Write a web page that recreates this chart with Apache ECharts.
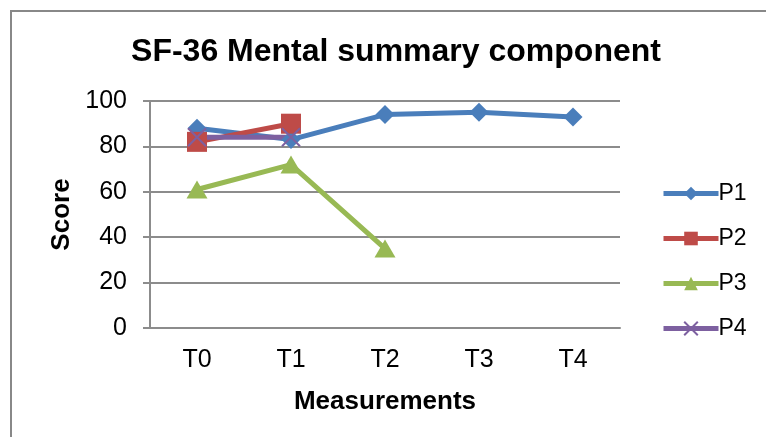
<!DOCTYPE html>
<html>
<head>
<meta charset="utf-8">
<script src="https://cdn.jsdelivr.net/npm/echarts@6/dist/echarts.min.js"></script>
<style>
  html, body { margin: 0; padding: 0; background: #fff; }
  #chart { width: 766px; height: 437px; }
</style>
</head>
<body>
<div id="chart"></div>
<script>
// Measurement points and SF-36 mental summary scores per patient
const categories = ['T0', 'T1', 'T2', 'T3', 'T4'];
const p1 = [88, 83, 94, 95, 93];
const p2 = [82, 90, null, null, null];
const p3 = [61, 72, 35, null, null];
const p4 = [84, 84, null, null, null];
const yTicks = [0, 20, 40, 60, 80, 100];

const FONT = 'Arial, "Liberation Sans", sans-serif';
const GRID_GREY = '#8c8c8c';

const chart = echarts.init(document.getElementById('chart'), null, { renderer: 'canvas' });

function lineSeries(name, data, color, symbol, size, extraItem) {
  return {
    name: name,
    type: 'line',
    data: data,
    color: color,
    symbol: symbol,
    symbolSize: size,
    showAllSymbol: true,
    connectNulls: false,
    lineStyle: { color: color, width: 5 },
    itemStyle: Object.assign({ color: color }, extraItem || {}),
    emphasis: { disabled: true },
    animation: false
  };
}

chart.setOption({
  backgroundColor: '#ffffff',
  animation: false,
  textStyle: { fontFamily: FONT },
  graphic: [
    {
      type: 'rect',
      shape: { x: 11, y: 11, width: 800, height: 500 },
      style: { fill: 'none', stroke: '#888888', lineWidth: 2 },
      silent: true,
      z: -10
    },
    {
      type: 'text',
      x: 396,
      y: 52,
      style: {
        text: 'SF-36 Mental summary component',
        fontFamily: FONT,
        fontSize: 32,
        fontWeight: 'bold',
        fill: '#000',
        align: 'center',
        verticalAlign: 'middle'
      }
    }
  ],
  grid: { left: 150, right: 146, top: 101, bottom: 109, containLabel: false },
  legend: {
    orient: 'vertical',
    left: 661,
    top: 182,
    padding: 0,
    itemWidth: 55,
    itemHeight: 17,
    itemGap: 22,
    selectedMode: false,
    lineStyle: { width: 5 },
    textStyle: { fontFamily: FONT, fontSize: 23, color: '#000', padding: [0, 0, 0, -5] },
    data: ['P1', 'P2', 'P3', 'P4']
  },
  xAxis: {
    type: 'category',
    data: categories,
    boundaryGap: true,
    name: 'Measurements',
    nameLocation: 'middle',
    nameGap: 61,
    nameTextStyle: { fontFamily: FONT, fontSize: 26, fontWeight: 'bold', color: '#000' },
    axisLine: { show: true, lineStyle: { color: GRID_GREY, width: 2 } },
    axisTick: { show: false },
    axisLabel: { fontFamily: FONT, fontSize: 25, color: '#000', margin: 20 },
    splitLine: { show: false }
  },
  yAxis: {
    type: 'value',
    min: yTicks[0],
    max: yTicks[yTicks.length - 1],
    interval: yTicks[1] - yTicks[0],
    name: 'Score',
    nameLocation: 'middle',
    nameGap: 74,
    nameRotate: 90,
    nameTextStyle: { fontFamily: FONT, fontSize: 26, fontWeight: 'bold', color: '#000' },
    axisLine: { show: true, lineStyle: { color: GRID_GREY, width: 2 } },
    axisTick: { show: true, length: 7, lineStyle: { color: GRID_GREY, width: 2 } },
    axisLabel: { fontFamily: FONT, fontSize: 25, color: '#000', margin: 23 },
    splitLine: { show: true, lineStyle: { color: GRID_GREY, width: 2 } }
  },
  series: [
    lineSeries('P1', p1, '#4a7ebb', 'diamond', [19, 19]),
    lineSeries('P2', p2, '#be4b48', 'rect', [20, 20]),
    lineSeries('P3', p3, '#98b954', 'triangle', [21, 18]),
    lineSeries('P4', p4, '#7d60a0', 'path://M0,0L10,10M10,0L0,10', [18, 18],
      { borderColor: '#7d60a0', borderWidth: 2 })
  ]
});
</script>
</body>
</html>
